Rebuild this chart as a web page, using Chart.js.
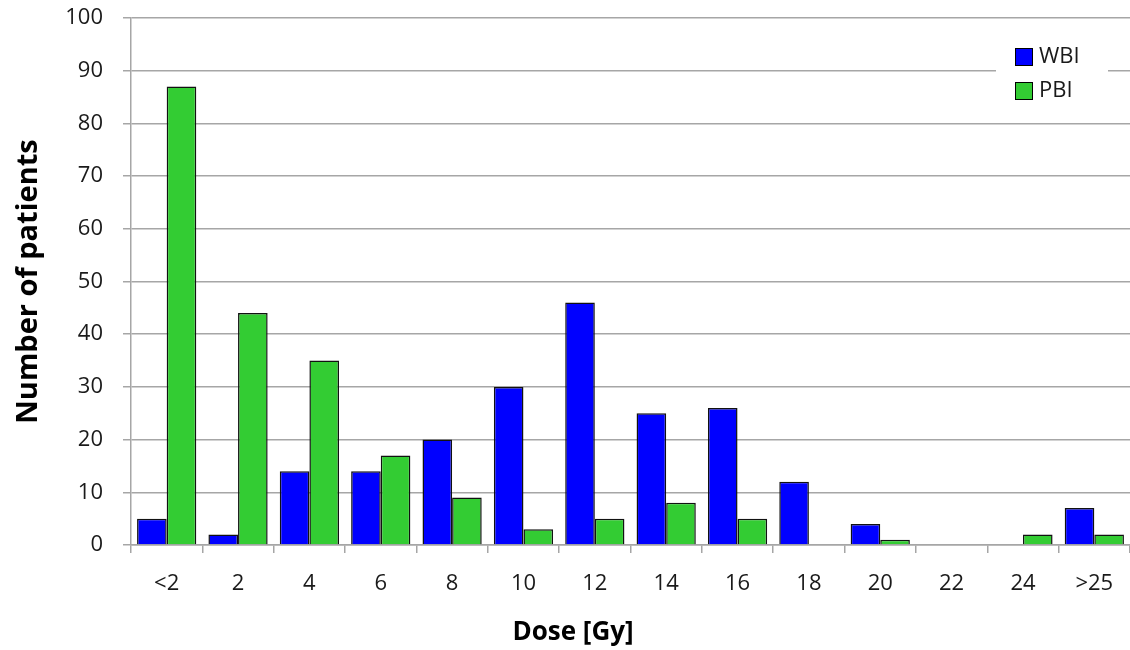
<!DOCTYPE html>
<html><head><meta charset="utf-8">
<script src="https://cdn.jsdelivr.net/npm/chart.js@4/dist/chart.umd.min.js"></script>
<style>html,body{margin:0;padding:0;background:#fff}#w{width:1130px;height:650px}</style>
</head><body><div id="w"><canvas id="c" width="1130" height="650"></canvas></div>
<script>
const categories = ["<2","2","4","6","8","10","12","14","16","18","20","22","24",">25"];
const wbiValues = [5,2,14,14,20,30,46,25,26,12,4,0,0,7];
const pbiValues = [87,44,35,17,9,3,5,8,5,0,1,0,2,2];
const seriesNames = ["WBI","PBI"];
const yTitle = "Number of patients";
const xTitle = "Dose [Gy]";
const FONT = "'Open Sans', Lato, sans-serif";

const overlay = {
  id:'overlay',
  afterDraw(chart){
    const ctx = chart.ctx;
    ctx.save();
    ctx.fillStyle = '#fff';
    ctx.fillRect(996, 40, 112, 66);
    chart.data.datasets.forEach((ds,i)=>{
      const y = 48 + i*34;
      ctx.fillStyle = ds.backgroundColor;
      ctx.fillRect(1015, y, 18, 18);
      ctx.strokeStyle = '#000'; ctx.lineWidth = 1;
      ctx.strokeRect(1015.5, y+0.5, 17, 17);
      ctx.fillStyle = '#1a1a1a';
      ctx.font = "22px " + FONT;
      ctx.textBaseline = 'middle'; ctx.textAlign = 'left';
      ctx.fillText(ds.label, 1039, y+9);
    });
    ctx.font = "bold 26px " + FONT;
    ctx.fillStyle = '#000';
    ctx.textAlign = 'center'; ctx.textBaseline = 'middle';
    ctx.fillText(xTitle, 573, 633);
    ctx.restore();
  }
};

new Chart(document.getElementById('c'), {
  type:'bar',
  data:{
    labels: categories,
    datasets:[
      {label:seriesNames[0], data:wbiValues, backgroundColor:'#0000FF', borderColor:'#111', borderWidth:1.5, barPercentage:1, categoryPercentage:0.83},
      {label:seriesNames[1], data:pbiValues, backgroundColor:'#33CC33', borderColor:'#111', borderWidth:1.5, barPercentage:1, categoryPercentage:0.83}
    ]
  },
  options:{
    responsive:false, animation:false,
    layout:{padding:{top:18,right:0,left:0,bottom:0}},
    plugins:{legend:{display:false}, tooltip:{enabled:false}},
    scales:{
      x:{
        grid:{display:true, drawOnChartArea:false, color:'#a6a6a6', lineWidth:1.5, tickLength:8, offset:true},
        border:{color:'#a6a6a6', width:1.5},
        ticks:{font:{family:FONT,size:22}, color:'#1a1a1a', padding:18, maxRotation:0},
        afterFit(s){ s.height = 650 - 545; s.paddingLeft = 0; s.paddingRight = 0; }
      },
      y:{
        min:0, max:100,
        ticks:{stepSize:10, font:{family:FONT,size:22}, color:'#1a1a1a', padding:20},
        grid:{color:'#a6a6a6', lineWidth:1.5, tickLength:8},
        border:{color:'#a6a6a6', width:1.5},
        title:{display:true, text:yTitle, font:{family:FONT,size:29,weight:'bold'}, color:'#000', padding:{top:11,bottom:6}},
        afterFit(s){ s.width = 131; s.paddingTop = 0; s.paddingBottom = 0; }
      }
    }
  },
  plugins:[overlay]
});
</script></body></html>
